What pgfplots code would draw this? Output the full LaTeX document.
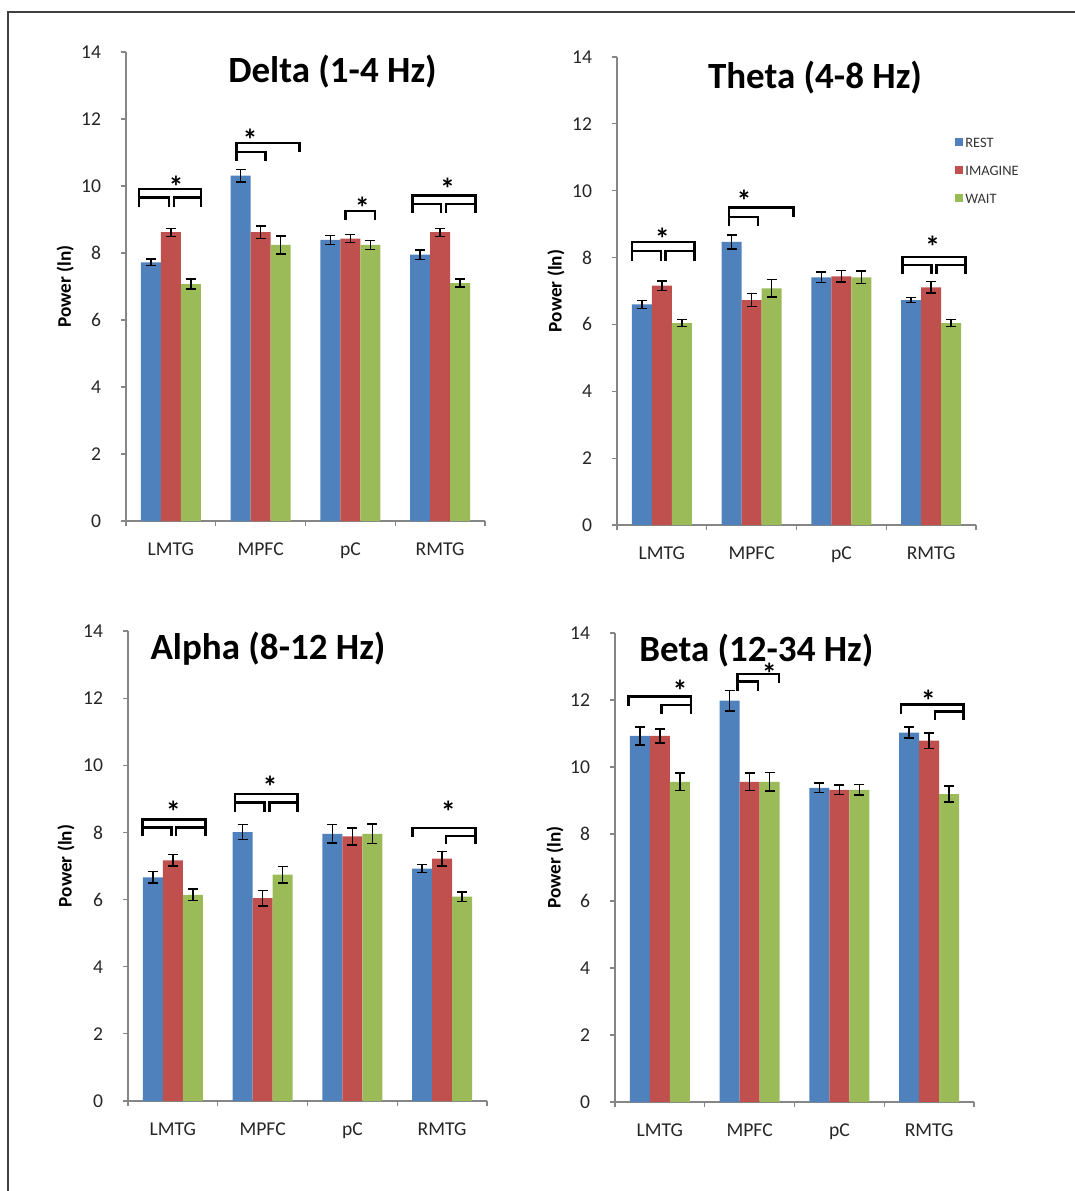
\documentclass[border=0pt]{standalone}
\usepackage{fontspec}
\setmainfont{Carlito}
\usepackage{pgfplots}
\pgfplotsset{compat=1.18}

\definecolor{cblue}{HTML}{4F81BD}
\definecolor{cred}{HTML}{C0504D}
\definecolor{cgreen}{HTML}{9BBB59}
\definecolor{axgray}{HTML}{868686}

\pgfplotsset{
  panel/.style={
    scale only axis, width=179.5pt, anchor=south west,
    xmin=-0.5, xmax=3.5, ymin=0, ymax=14,
    axis lines=left, axis line style={-, axgray, line width=0.6pt},
    ytick={0,2,...,14},
    xtick={0,1,2,3}, xticklabels={LMTG,MPFC,pC,RMTG},
    minor xtick={-0.5,0.5,1.5,2.5,3.5},
    major x tick style={draw=none},
    tick align=outside,
    major tick length=2.5pt, minor tick length=2.5pt,
    tick style={axgray, line width=0.6pt},
    ticklabel style={font=\fontsize{9.8}{11}\selectfont, text=black!85},
    /pgf/number format/assume math mode=true,
    xticklabel style={yshift=-5pt},
    yticklabel style={xshift=-6.5pt},
    ybar, bar width=0.2228,
    clip=false,
    error bars/y dir=both, error bars/y explicit,
    error bars/error mark=|,
    error bars/error bar style={black, line width=0.7pt},
    error bars/error mark options={black, mark size=2.5pt, line width=0.7pt},
  },
  pr/.style={fill=cblue, draw=none, bar shift=-0.2228},
  pi/.style={fill=cred, draw=none, bar shift=0},
  pw/.style={fill=cgreen, draw=none, bar shift=0.2228},
}
\tikzset{
  brk/.style={black, line width=1.25pt},
  star/.style={anchor=base, yshift=-7.6pt, inner sep=0pt, font=\fontsize{15}{15}\selectfont\bfseries},
  ttl/.style={font=\fontsize{18.5}{20}\selectfont\bfseries, inner sep=0pt},
  ylab/.style={rotate=90, font=\fontsize{9.6}{11}\selectfont\bfseries, inner sep=0pt},
}

\begin{document}
\begin{tikzpicture}
\useasboundingbox (0pt,0pt) rectangle (537.5pt,-595.5pt);
\draw[line width=1pt, black!75] (4pt,-595.5pt) -- (4pt,-6pt) -- (537.5pt,-6pt);

% ---------------- Delta ----------------
\begin{axis}[panel, at={(63pt,-260.5pt)}, height=234.5pt]
\addplot[pr] coordinates {(0,7.72) +- (0,0.10) (1,10.31) +- (0,0.19) (2,8.39) +- (0,0.14) (3,7.95) +- (0,0.14)};
\addplot[pi] coordinates {(0,8.62) +- (0,0.12) (1,8.62) +- (0,0.19) (2,8.43) +- (0,0.12) (3,8.62) +- (0,0.12)};
\addplot[pw] coordinates {(0,7.07) +- (0,0.15) (1,8.24) +- (0,0.27) (2,8.24) +- (0,0.14) (3,7.10) +- (0,0.12)};
% LMTG
\draw[brk] (axis cs:-0.355,9.36) |- (axis cs:0.336,9.91) -- (axis cs:0.336,9.36);
\draw[brk] (axis cs:-0.355,9.66) -| (axis cs:-0.020,9.36);
\draw[brk] (axis cs:0.034,9.36) |- (axis cs:0.336,9.66);
\node[star] at (axis cs:0.057,10.10) {*};
% MPFC
\draw[brk] (axis cs:0.733,10.76) |- (axis cs:1.431,11.28) -- (axis cs:1.431,11.01);
\draw[brk] (axis cs:0.733,11.02) -| (axis cs:1.057,10.76);
\node[star] at (axis cs:0.882,11.52) {*};
% pC
\draw[brk] (axis cs:1.943,8.99) |- (axis cs:2.274,9.25) -- (axis cs:2.274,8.99);
\node[star] at (axis cs:2.133,9.48) {*};
% RMTG
\draw[brk] (axis cs:2.694,9.20) |- (axis cs:3.392,9.72) -- (axis cs:3.392,9.20);
\draw[brk] (axis cs:2.694,9.47) -| (axis cs:3.012,9.20);
\draw[brk] (axis cs:3.066,9.20) |- (axis cs:3.392,9.47);
\node[star] at (axis cs:3.084,10.06) {*};
\end{axis}

% ---------------- Theta ----------------
\begin{axis}[panel, at={(308.5pt,-262.5pt)}, height=234pt,
  legend style={at={(0.9415,0.834)}, anchor=north west, draw=none, fill=none,
    inner sep=0pt, font=\fontsize{7.2}{8}\selectfont, row sep=7pt,
    nodes={inner sep=1pt, text height=5pt, text depth=0pt, text=black!80}},
  legend cell align=left,
  legend image code/.code={\fill[#1] (0pt,-2pt) rectangle (4pt,2pt);}]
\addplot[pr] coordinates {(0,6.60) +- (0,0.12) (1,8.47) +- (0,0.21) (2,7.41) +- (0,0.16) (3,6.73) +- (0,0.08)};
\addplot[pi] coordinates {(0,7.16) +- (0,0.14) (1,6.73) +- (0,0.20) (2,7.44) +- (0,0.17) (3,7.11) +- (0,0.17)};
\addplot[pw] coordinates {(0,6.04) +- (0,0.10) (1,7.08) +- (0,0.26) (2,7.41) +- (0,0.19) (3,6.04) +- (0,0.10)};
\legend{REST,IMAGINE,WAIT}
% LMTG
\draw[brk] (axis cs:-0.333,7.91) |- (axis cs:0.361,8.47) -- (axis cs:0.361,7.91);
\draw[brk] (axis cs:-0.333,8.20) -| (axis cs:-0.012,7.91);
\draw[brk] (axis cs:0.042,7.91) |- (axis cs:0.361,8.20);
\node[star] at (axis cs:0.005,8.70) {*};
% MPFC
\draw[brk] (axis cs:0.748,8.94) |- (axis cs:1.464,9.50) -- (axis cs:1.464,9.22);
\draw[brk] (axis cs:0.748,9.22) -| (axis cs:1.071,8.94);
\node[star] at (axis cs:0.915,9.82) {*};
% RMTG
\draw[brk] (axis cs:2.683,7.51) |- (axis cs:3.381,8.02) -- (axis cs:3.381,7.51);
\draw[brk] (axis cs:2.683,7.78) -| (axis cs:3.005,7.51);
\draw[brk] (axis cs:3.059,7.51) |- (axis cs:3.381,7.78);
\node[star] at (axis cs:3.017,8.47) {*};
\end{axis}

% ---------------- Alpha ----------------
\begin{axis}[panel, at={(64pt,-550.5pt)}, height=235pt]
\addplot[pr] coordinates {(0,6.66) +- (0,0.17) (1,8.01) +- (0,0.22) (2,7.96) +- (0,0.27) (3,6.92) +- (0,0.12)};
\addplot[pi] coordinates {(0,7.17) +- (0,0.17) (1,6.04) +- (0,0.23) (2,7.88) +- (0,0.25) (3,7.22) +- (0,0.22)};
\addplot[pw] coordinates {(0,6.14) +- (0,0.17) (1,6.74) +- (0,0.24) (2,7.96) +- (0,0.29) (3,6.09) +- (0,0.14)};
% LMTG
\draw[brk] (axis cs:-0.341,7.89) |- (axis cs:0.361,8.39) -- (axis cs:0.361,7.89);
\draw[brk] (axis cs:-0.341,8.14) -| (axis cs:-0.018,7.89);
\draw[brk] (axis cs:0.036,7.89) |- (axis cs:0.361,8.14);
\node[star] at (axis cs:0.005,8.74) {*};
% MPFC
\draw[brk] (axis cs:0.692,8.60) |- (axis cs:1.391,9.15) -- (axis cs:1.391,8.60);
\draw[brk] (axis cs:0.692,8.89) -| (axis cs:1.020,8.60);
\draw[brk] (axis cs:1.074,8.60) |- (axis cs:1.391,8.89);
\node[star] at (axis cs:1.082,9.49) {*};
% RMTG
\draw[brk] (axis cs:2.672,7.86) |- (axis cs:3.370,8.13) -- (axis cs:3.370,7.65);
\draw[brk] (axis cs:3.043,7.65) |- (axis cs:3.370,7.89);
\node[star] at (axis cs:3.069,8.74) {*};
\end{axis}

% ---------------- Beta ----------------
\begin{axis}[panel, at={(307.5pt,-551pt)}, height=234.5pt]
\addplot[pr] coordinates {(0,10.93) +- (0,0.27) (1,11.98) +- (0,0.31) (2,9.38) +- (0,0.14) (3,11.03) +- (0,0.16)};
\addplot[pi] coordinates {(0,10.93) +- (0,0.21) (1,9.56) +- (0,0.26) (2,9.32) +- (0,0.14) (3,10.79) +- (0,0.23)};
\addplot[pw] coordinates {(0,9.56) +- (0,0.26) (1,9.56) +- (0,0.28) (2,9.32) +- (0,0.15) (3,9.19) +- (0,0.24)};
% LMTG
\draw[brk] (axis cs:-0.352,11.83) |- (axis cs:0.347,12.10) -- (axis cs:0.347,11.58);
\draw[brk] (axis cs:0.020,11.58) |- (axis cs:0.347,11.85);
\node[star] at (axis cs:0.224,12.40) {*};
% MPFC
\draw[brk] (axis cs:0.867,12.28) |- (axis cs:1.327,12.78) -- (axis cs:1.327,12.50);
\draw[brk] (axis cs:0.867,12.55) -| (axis cs:1.093,12.28);
\node[star] at (axis cs:1.219,12.92) {*};
% RMTG
\draw[brk] (axis cs:2.687,11.58) |- (axis cs:3.381,11.87) -- (axis cs:3.381,11.40);
\draw[brk] (axis cs:3.065,11.40) |- (axis cs:3.381,11.65);
\node[star] at (axis cs:2.991,12.10) {*};
\end{axis}

% titles and axis labels
\node[ttl] at (166.25pt,-36pt) {Delta (1-4 Hz)};
\node[ttl] at (407.5pt,-38.75pt) {Theta (4-8 Hz)};
\node[ttl] at (134pt,-324.5pt) {Alpha (8-12 Hz)};
\node[ttl] at (378.2pt,-325.25pt) {Beta (12-34 Hz)};
\node[ylab] at (32.65pt,-143.35pt) {Power (ln)};
\node[ylab] at (278pt,-145.5pt) {Power (ln)};
\node[ylab] at (33pt,-433pt) {Power (ln)};
\node[ylab] at (277.5pt,-433.75pt) {Power (ln)};
\end{tikzpicture}
\end{document}
